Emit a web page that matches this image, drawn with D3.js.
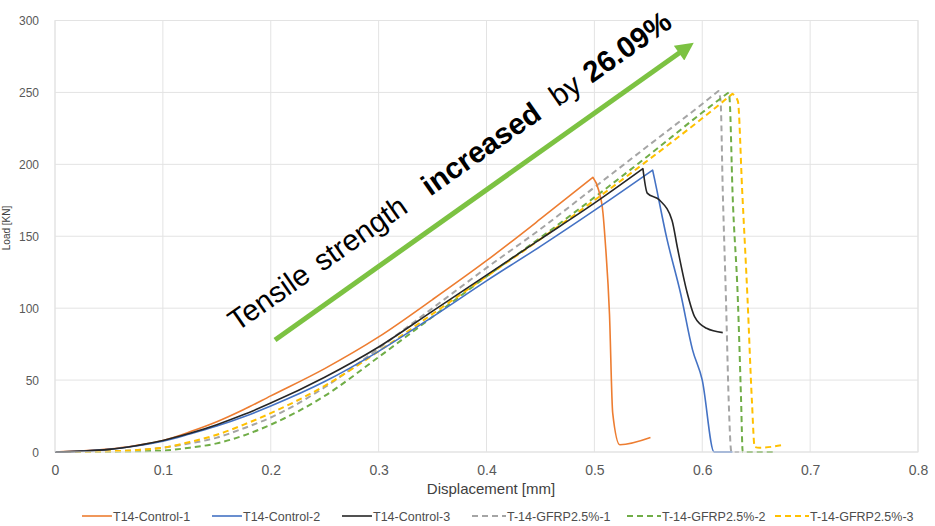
<!DOCTYPE html>
<html><head><meta charset="utf-8">
<script src="https://cdn.jsdelivr.net/npm/d3@7/dist/d3.min.js"></script>
<style>
body{margin:0;background:#fff;}
svg{display:block;font-family:"Liberation Sans",Arial,sans-serif;}
</style>
</head><body>
<svg id="chart" width="935" height="526"></svg>
<script>
// ---------- data ----------
const xTicks = [0, 0.1, 0.2, 0.3, 0.4, 0.5, 0.6, 0.7, 0.8];
const yTicks = [0, 50, 100, 150, 200, 250, 300];
const seriesNames = ["T14-Control-1", "T14-Control-2", "T14-Control-3",
                     "T-14-GFRP2.5%-1", "T-14-GFRP2.5%-2", "T-14-GFRP2.5%-3"];

const control1X = [0, 0.025, 0.05, 0.075, 0.1, 0.125, 0.15, 0.175, 0.2, 0.25, 0.3, 0.35, 0.4, 0.45, 0.4986, 0.504, 0.508, 0.510, 0.514, 0.517, 0.5236, 0.552];
const control1Y = [0, 0.8, 2, 4.5, 8, 14, 21, 29.5, 39, 58, 80, 106, 133, 162, 191, 182, 166, 147, 96, 27, 5, 10];

const control2X = [0, 0.025, 0.05, 0.075, 0.1, 0.125, 0.15, 0.175, 0.2, 0.25, 0.3, 0.35, 0.4, 0.45, 0.5, 0.554, 0.556, 0.567, 0.58, 0.591, 0.6, 0.611, 0.628];
const control2Y = [0, 0.6, 1.8, 4.2, 7.5, 12.5, 18, 24.5, 32, 49, 70, 94, 119, 143, 168, 196, 189, 149, 110, 71, 50, 0, 0];

const control3X = [0, 0.025, 0.05, 0.075, 0.1, 0.125, 0.15, 0.175, 0.2, 0.25, 0.3, 0.35, 0.4, 0.45, 0.5, 0.545, 0.549, 0.5606, 0.572, 0.577, 0.5856, 0.593, 0.604, 0.619];
const control3Y = [0, 0.6, 1.8, 4.4, 8, 13, 19, 26, 34, 52, 73, 98, 123, 148, 173, 197, 180, 175, 161, 142, 112, 94, 86, 83];

const gfrp1X = [0, 0.05, 0.1, 0.125, 0.15, 0.175, 0.2, 0.25, 0.3, 0.35, 0.4, 0.45, 0.5, 0.55, 0.6, 0.615, 0.617, 0.619, 0.622, 0.6245, 0.627, 0.634];
const gfrp1Y = [0, 0.5, 3, 6, 10, 16.5, 24, 45, 72, 100, 128, 155, 184, 213, 242, 251, 244, 182, 106, 36, 0, 0];

const gfrp2X = [0, 0.05, 0.1, 0.125, 0.15, 0.175, 0.2, 0.25, 0.3, 0.35, 0.4, 0.45, 0.5, 0.55, 0.6, 0.6245, 0.6255, 0.628, 0.633, 0.636, 0.6375, 0.668];
const gfrp2Y = [0, 0.2, 1, 3, 6, 11.5, 19, 39, 66, 94, 122, 149, 177, 206, 236, 250, 244, 182, 106, 36, 0, 0];

const gfrp3X = [0, 0.05, 0.1, 0.125, 0.15, 0.175, 0.2, 0.25, 0.3, 0.35, 0.4, 0.45, 0.5, 0.55, 0.6, 0.628, 0.633, 0.637, 0.642, 0.646, 0.6486, 0.653, 0.676];
const gfrp3Y = [0, 0.5, 3, 7, 12, 19, 27, 46, 70, 96, 122, 148, 175, 203, 232, 249, 244, 182, 106, 36, 3.5, 3, 5];

const xTitle = "Displacement [mm]";
const yTitle = "Load [KN]";
const annotationWords = [
  {t: "Tensile", bold: false, at: 0},
  {t: "strength", bold: false, at: 104},
  {t: "increased", bold: true, at: 236},
  {t: "by", bold: false, at: 392},
  {t: "26.09%", bold: true, at: 433}
];

// ---------- styles ----------
const colors = ["#ED7D31", "#4472C4", "#262626", "#A5A5A5", "#70AD47", "#FFC000"];
const dashed = [false, false, false, true, true, true];

// ---------- layout ----------
const plot = {left: 55, right: 918, top: 20.5, bottom: 452};
const svg = d3.select("#chart");

const x = d3.scaleLinear().domain([0, 0.8]).range([plot.left, plot.right]);
const y = d3.scaleLinear().domain([0, 300]).range([plot.bottom, plot.top]);

// gridlines
const grid = svg.append("g");
grid.selectAll("line.v").data(xTicks).join("line")
  .attr("x1", d => x(d)).attr("x2", d => x(d))
  .attr("y1", plot.top).attr("y2", plot.bottom)
  .attr("stroke", "#e3e3e3").attr("stroke-width", 1);
grid.selectAll("line.h").data(yTicks).join("line")
  .attr("x1", plot.left).attr("x2", plot.right)
  .attr("y1", d => y(d)).attr("y2", d => y(d))
  .attr("stroke", "#e3e3e3").attr("stroke-width", 1);

// axes (labels only)
const xAxis = d3.axisBottom(x).tickValues(xTicks).tickSize(0).tickPadding(0)
  .tickFormat(d => d === 0 ? "0" : d3.format(".1f")(d));
const gx = svg.append("g").attr("transform", `translate(0,${plot.bottom})`).call(xAxis);
gx.select(".domain").remove();
gx.selectAll("text").attr("dy", null).attr("y", 23)
  .attr("font-size", 14).attr("fill", "#595959").attr("font-family", "Liberation Sans, Arial, sans-serif");

const yAxis = d3.axisLeft(y).tickValues(yTicks).tickSize(0).tickPadding(0);
const gy = svg.append("g").attr("transform", `translate(${plot.left},0)`).call(yAxis);
gy.select(".domain").remove();
gy.selectAll("text").attr("x", -16).attr("dy", "0.35em")
  .attr("font-size", 12).attr("fill", "#595959").attr("font-family", "Liberation Sans, Arial, sans-serif");

// axis titles
svg.append("text").attr("x", 491).attr("y", 494).attr("text-anchor", "middle")
  .attr("font-size", 15).attr("fill", "#404040").text(xTitle);
svg.append("text").attr("transform", "translate(10,228) rotate(-90)")
  .attr("text-anchor", "middle").attr("font-size", 10).attr("fill", "#404040").text(yTitle);

// series
const seriesX = [control1X, control2X, control3X, gfrp1X, gfrp2X, gfrp3X];
const seriesY = [control1Y, control2Y, control3Y, gfrp1Y, gfrp2Y, gfrp3Y];
const series = seriesNames.map((n, i) => ({
  name: n, color: colors[i], dashed: dashed[i],
  pts: seriesX[i].map((v, j) => [v, seriesY[i][j]])
}));
const line = d3.line().x(d => x(d[0])).y(d => y(d[1])).curve(d3.curveMonotoneX);
// smooth rise up to the peak, smooth fall after it, sharp corner at the peak
function pathFor(pts) {
  const pk = d3.maxIndex(pts, d => d[1]);
  const rise = line(pts.slice(0, pk + 1));
  const fall = line(pts.slice(pk));
  return rise + "L" + fall.slice(1);
}

const order = [3, 4, 5, 0, 1, 2];
svg.append("g").selectAll("path").data(order.map(i => series[i])).join("path")
  .attr("d", d => pathFor(d.pts))
  .attr("fill", "none")
  .attr("stroke", d => d.color)
  .attr("stroke-width", d => d.dashed ? 2 : 1.6)
  .attr("stroke-dasharray", d => d.dashed ? "6,4" : null)
  .attr("stroke-linejoin", "round");

// plot border
svg.append("rect").attr("x", plot.left).attr("y", plot.top)
  .attr("width", plot.right - plot.left).attr("height", plot.bottom - plot.top)
  .attr("fill", "none").attr("stroke", "#e3e3e3");

// legend
const legendStarts = [82, 212, 342, 472, 627, 775];
const lg = svg.append("g");
series.forEach((s, i) => {
  const g = lg.append("g").attr("transform", `translate(${legendStarts[i]},516)`);
  g.append("line").attr("x1", 0).attr("x2", s.dashed ? 34 : 30).attr("y1", 0).attr("y2", 0)
    .attr("stroke", s.color).attr("stroke-width", s.dashed ? 2 : 1.6)
    .attr("stroke-dasharray", s.dashed ? "6,4" : null);
  g.append("text").attr("x", s.dashed ? 35 : 31).attr("y", 4.5)
    .attr("font-size", 12.5).attr("fill", "#4d4d4d").text(s.name);
});

// annotation arrow
const defs = svg.append("defs");
defs.append("marker").attr("id", "ah").attr("viewBox", "0 0 10 10")
  .attr("refX", 2).attr("refY", 5).attr("markerWidth", 4).attr("markerHeight", 3.6)
  .attr("orient", "auto").attr("markerUnits", "strokeWidth")
  .append("path").attr("d", "M0,0 L10,5 L0,10 z").attr("fill", "#7CC242");
svg.append("line").attr("x1", 275).attr("y1", 340).attr("x2", 682).attr("y2", 51)
  .attr("stroke", "#7CC242").attr("stroke-width", 5).attr("marker-end", "url(#ah)");

const ann = svg.append("text").attr("transform", "translate(237,332) rotate(-35)")
  .attr("font-size", 29.5).attr("fill", "#000");
annotationWords.forEach(w => {
  ann.append("tspan").attr("x", w.at).attr("y", 0)
    .attr("font-weight", w.bold ? "bold" : "normal").text(w.t);
});
</script>
</body></html>
